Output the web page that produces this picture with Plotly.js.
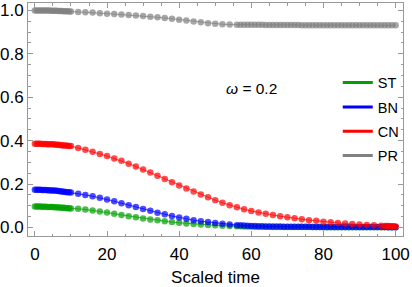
<!DOCTYPE html>
<html>
<head>
<meta charset="utf-8">
<script src="https://cdn.plot.ly/plotly-3.0.1.min.js"></script>
<style>html,body{margin:0;padding:0;background:#fff;}#chart{width:412px;height:287px;}</style>
</head>
<body>
<div id="chart"></div>
<script>
// ---- sample times ----
const tEarly = [0,0.5,1,1.5,2,2.5,3,3.5,4,4.5,5,5.5,6,6.5,7,7.5,8,8.5,9,9.5,10];
const tMid = [12,14,16,18,20,22,24,26,28,30,32,34,36,38,40,42,44,46,48,50,52,54,56];
const tLate = [57,58,59,60,61,62,63,64,65,66,67,68,69,70,71,72,73,74,75,76,77,78,79,80,81,82,83,84,85,86,87,88,89,90,91,92,93,94,95,96,97,98,99,100];
const tRedMid = [12,14,16,18,20,22,24,26,28,30,32,34,36,38,40,42,44,46,48,50,52,54,56,58,60,62,64,66,68,70,72,74,76,78,80,82,84,86,88,90,92,94,96];
const tRedLate = [97,97.5,98,98.5,99,99.5,100];

// ---- ST (green) ----
const stEarly = [0.097,0.097,0.097,0.097,0.096,0.096,0.096,0.095,0.095,0.094,0.094,0.093,0.093,0.092,0.092,0.091,0.091,0.090,0.089,0.089,0.088];
const stMid = [0.086,0.083,0.079,0.074,0.069,0.063,0.058,0.052,0.047,0.042,0.037,0.033,0.029,0.025,0.022,0.019,0.016,0.014,0.012,0.010,0.008,0.007,0.006];
const stLate = [0.0055,0.005,0.0047,0.0044,0.0041,0.0038,0.0036,0.0034,0.0032,0.003,0.0029,0.0028,0.0027,0.0026,0.0025,0.0024,0.0023,0.0022,0.0021,0.002,0.002,0.0019,0.0019,0.0018,0.0018,0.0017,0.0017,0.0016,0.0016,0.0015,0.0015,0.0015,0.0014,0.0014,0.0014,0.0013,0.0013,0.0013,0.0012,0.0012,0.0012,0.0011,0.0011,0.0011];

// ---- BN (blue) ----
const bnEarly = [0.174,0.174,0.174,0.174,0.173,0.173,0.173,0.172,0.172,0.171,0.170,0.170,0.169,0.168,0.167,0.166,0.165,0.164,0.163,0.162,0.161];
const bnMid = [0.156,0.150,0.144,0.137,0.129,0.121,0.112,0.103,0.094,0.085,0.077,0.068,0.061,0.053,0.046,0.040,0.034,0.029,0.025,0.021,0.017,0.014,0.011];
const bnLate = [0.010,0.009,0.008,0.007,0.0065,0.006,0.0055,0.005,0.0048,0.0046,0.0044,0.0042,0.004,0.0038,0.0036,0.0035,0.0034,0.0033,0.0032,0.0031,0.003,0.0029,0.0028,0.0027,0.0026,0.0025,0.0025,0.0024,0.0024,0.0023,0.0023,0.0022,0.0022,0.0021,0.0021,0.002,0.002,0.002,0.0019,0.0019,0.0019,0.0018,0.0018,0.0018];

// ---- CN (red) ----
const cnEarly = [0.386,0.386,0.386,0.386,0.385,0.385,0.385,0.384,0.384,0.383,0.383,0.382,0.381,0.381,0.380,0.379,0.378,0.378,0.377,0.376,0.375];
const cnMid = [0.366,0.358,0.349,0.339,0.329,0.318,0.307,0.294,0.281,0.267,0.253,0.238,0.223,0.208,0.194,0.180,0.166,0.152,0.139,0.126,0.114,0.103,0.093,0.084,0.076,0.069,0.063,0.058,0.052,0.047,0.043,0.038,0.034,0.031,0.027,0.024,0.021,0.018,0.016,0.014,0.012,0.010,0.008];
const cnLate = [0.0075,0.007,0.0066,0.0062,0.0058,0.0054,0.005];

// ---- PR (grey) ----
const prEarly = [1.000,1.000,1.000,1.000,1.000,0.999,0.999,0.999,0.999,0.998,0.998,0.998,0.998,0.997,0.997,0.997,0.996,0.996,0.996,0.995,0.995];
const prMid = [0.993,0.991,0.990,0.987,0.985,0.983,0.981,0.979,0.977,0.974,0.971,0.968,0.965,0.961,0.957,0.953,0.949,0.945,0.941,0.938,0.936,0.935,0.934];
const prLate = [0.934,0.934,0.934,0.934,0.934,0.934,0.934,0.933,0.933,0.933,0.933,0.933,0.933,0.933,0.933,0.933,0.933,0.932,0.932,0.932,0.932,0.932,0.932,0.932,0.932,0.932,0.932,0.932,0.932,0.932,0.931,0.931,0.931,0.931,0.931,0.931,0.931,0.931,0.931,0.931,0.931,0.931,0.931,0.931];

const seriesNames = ['ST','BN','CN','PR'];
const seriesColors = ['rgb(0,160,0)','rgb(0,0,255)','rgb(255,0,0)','rgb(128,128,128)'];
const seriesLineColors = ['rgba(0,160,0,0.7)','rgba(0,0,255,0.7)','rgba(255,0,0,0.7)','rgba(128,128,128,0.7)'];
const omegaLabel = '<i>ω</i> = 0.2';
const xTitle = 'Scaled time';

const tStd = tEarly.concat(tMid, tLate);
const tRed = tEarly.concat(tRedMid, tRedLate);
const xs = [tStd, tStd, tRed, tStd];
const ys = [stEarly.concat(stMid, stLate), bnEarly.concat(bnMid, bnLate), cnEarly.concat(cnMid, cnLate), prEarly.concat(prMid, prLate)];

const FONT = 'Liberation Sans, Arial, sans-serif';
const traces = [];
for (let i = 0; i < 4; i++) {
  traces.push({
    x: xs[i], y: ys[i], type: 'scatter', mode: 'lines+markers',
    line: {color: seriesLineColors[i], width: 1},
    marker: {color: seriesColors[i], size: 6.5, opacity: 0.7},
    showlegend: false, hoverinfo: 'skip'
  });
}
for (let i = 0; i < 4; i++) {
  traces.push({
    x: [null], y: [null], type: 'scatter', mode: 'lines', name: seriesNames[i],
    line: {color: seriesColors[i], width: 3}, legendgroup: 'g' + i, showlegend: true
  });
}

const axisCommon = {
  showline: true, linecolor: '#999', linewidth: 1, mirror: 'ticks',
  ticks: 'inside', ticklen: 5, tickcolor: '#999', tickwidth: 1,
  showgrid: false, zeroline: false,
  tickfont: {family: FONT, size: 17, color: '#000'}
};

const layout = {
  width: 412, height: 287,
  margin: {l: 28, r: 9, t: 3, b: 51},
  paper_bgcolor: '#fff', plot_bgcolor: '#fff',
  font: {family: FONT, color: '#000'},
  xaxis: Object.assign({}, axisCommon, {
    range: [-1.91, 102.05], tick0: 0, dtick: 20, ticklabelstandoff: 3,
    minor: {dtick: 5, ticks: 'inside', ticklen: 2.5, tickcolor: '#999'},
    title: {text: xTitle, font: {family: FONT, size: 17, color: '#000'}, standoff: 18}
  }),
  yaxis: Object.assign({}, axisCommon, {
    range: [-0.039, 1.034], tick0: 0, dtick: 0.2, tickformat: '.1f',
    minor: {dtick: 0.05, ticks: 'inside', ticklen: 2.5, tickcolor: '#999'}
  }),
  legend: {
    x: 0.826, y: 0.727, xanchor: 'left', yanchor: 'top',
    bgcolor: 'rgba(0,0,0,0)', borderwidth: 0,
    font: {family: FONT, size: 14.5, color: '#000'},
    tracegroupgap: 2.5, itemwidth: 30
  },
  annotations: [{
    text: omegaLabel, xref: 'paper', yref: 'paper', x: 0.5947, y: 0.6339,
    xanchor: 'center', yanchor: 'middle', showarrow: false,
    font: {family: FONT, size: 15.5, color: '#000'}
  }]
};

Plotly.newPlot('chart', traces, layout, {displayModeBar: false, staticPlot: true});
</script>
</body>
</html>
